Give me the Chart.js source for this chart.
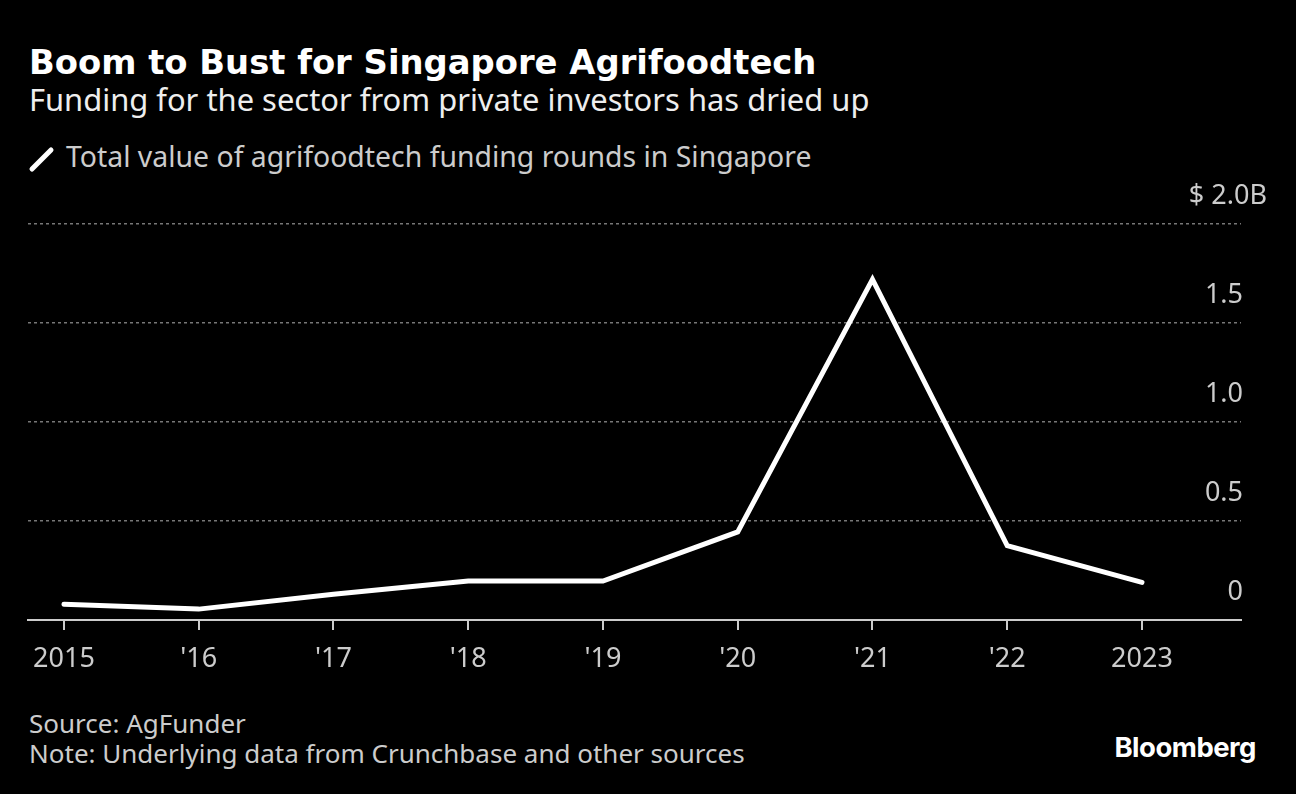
<!DOCTYPE html>
<html>
<head>
<meta charset="utf-8">
<script src="https://cdn.jsdelivr.net/npm/chart.js@4.4.0/dist/chart.umd.min.js"></script>
<style>
  html, body { margin: 0; padding: 0; background: #000; }
  #wrap { position: relative; width: 1296px; height: 794px; overflow: hidden; background: #000; }
  .txt { position: absolute; white-space: nowrap; }
  #title { left: 29px; top: 43px; font: bold 33.8px "DejaVu Sans"; color: #fff; }
  #subtitle { left: 29px; top: 78px; font: 30.9px "Noto Sans"; color: #eee; }
  #legend { left: 66px; top: 137px; font: 28.4px "Noto Sans"; color: #ccc; }
  #legicon { position: absolute; left: 28px; top: 145px; width: 28px; height: 28px; }
  #source { left: 29px; top: 708px; font: 26px "Noto Sans"; color: #ccc; line-height: 30px; }
  #logo { right: 40px; top: 730px; font: bold 27.5px "Inter"; color: #fff; letter-spacing: -0.5px; }
  #chart { position: absolute; left: 0; top: 0; }
</style>
</head>
<body>
<div id="wrap">
  <div class="txt" id="title">Boom to Bust for Singapore Agrifoodtech</div>
  <div class="txt" id="subtitle">Funding for the sector from private investors has dried up</div>
  <svg id="legicon" viewBox="0 0 28 28"><line x1="4" y1="24" x2="23" y2="5" stroke="#fff" stroke-width="5" stroke-linecap="round"/></svg>
  <div class="txt" id="legend">Total value of agrifoodtech funding rounds in Singapore</div>
  <div class="txt" id="source">Source: AgFunder<br>Note: Underlying data from Crunchbase and other sources</div>
  <div class="txt" id="logo">Bloomberg</div>
  <canvas id="chart" width="1296" height="794"></canvas>
</div>
<script>
// funding per year, $ billions
const years = [2015, 2016, 2017, 2018, 2019, 2020, 2021, 2022, 2023];
const yearLabels = ["2015", "'16", "'17", "'18", "'19", "'20", "'21", "'22", "2023"];
const funding = [0.08, 0.055, 0.13, 0.197, 0.197, 0.445, 1.72, 0.375, 0.19];
const yTicks = [0, 0.5, 1.0, 1.5, 2.0];
const yTickLabels = ["0", "0.5", "1.0", "1.5", "$ 2.0B"];

const yLabelPlugin = {
  id: "yLabels",
  afterDraw(chart) {
    const ctx = chart.ctx;
    const y = chart.scales.y;
    ctx.save();
    ctx.font = "27px 'Noto Sans'";
    ctx.fillStyle = "#ccc";
    ctx.textAlign = "right";
    ctx.textBaseline = "middle";
    yTicks.forEach((v, i) => {
      // the top label hangs past the plot edge like the original
      const xr = i === yTicks.length - 1 ? chart.chartArea.right + 26 : chart.chartArea.right + 2;
      ctx.fillText(yTickLabels[i], xr, y.getPixelForValue(v) - 28);
    });
    ctx.restore();
  }
};

const ctx = document.getElementById("chart").getContext("2d");
const myChart = new Chart(ctx, {
  type: "line",
  data: {
    datasets: [
      {
        label: "Total value of agrifoodtech funding rounds in Singapore",
        data: years.map((yr, i) => ({ x: yr, y: funding[i] })),
        borderColor: "#fff",
        borderWidth: 5,
        pointRadius: 0,
        tension: 0,
        borderCapStyle: "round",
        borderJoinStyle: "miter",
      },
    ],
  },
  options: {
    responsive: false,
    animation: false,
    layout: { padding: { top: 224, left: 28, right: 55, bottom: 114 } },
    plugins: { legend: { display: false }, tooltip: { enabled: false } },
    scales: {
      x: {
        type: "linear",
        min: 2014.733,
        max: 2023.735,
        afterBuildTicks: (s) => { s.ticks = years.map((v) => ({ value: v })); },
        afterFit: (s) => { s.height = 60; },
        border: { display: true, color: "#ccc", width: 2 },
        grid: { drawOnChartArea: false, drawTicks: true, tickLength: 10, color: "#ccc", lineWidth: 2 },
        ticks: {
          color: "#ccc",
          font: { family: "Noto Sans", size: 27 },
          padding: 13,
          maxRotation: 0,
          autoSkip: false,
          callback: (v) => yearLabels[years.indexOf(v)],
        },
      },
      y: {
        position: "right",
        min: 0,
        max: 2,
        afterBuildTicks: (s) => { s.ticks = yTicks.map((v) => ({ value: v })); },
        afterFit: (s) => { s.width = 0; },
        grid: {
          drawTicks: false,
          color: (c) => (c.tick && c.tick.value === 0 ? "rgba(0,0,0,0)" : "#777"),
          lineWidth: 1.5,
        },
        border: { display: false, dash: [3, 3] },
        ticks: { display: false },
      },
    },
  },
  plugins: [yLabelPlugin],
});
</script>
</body>
</html>
